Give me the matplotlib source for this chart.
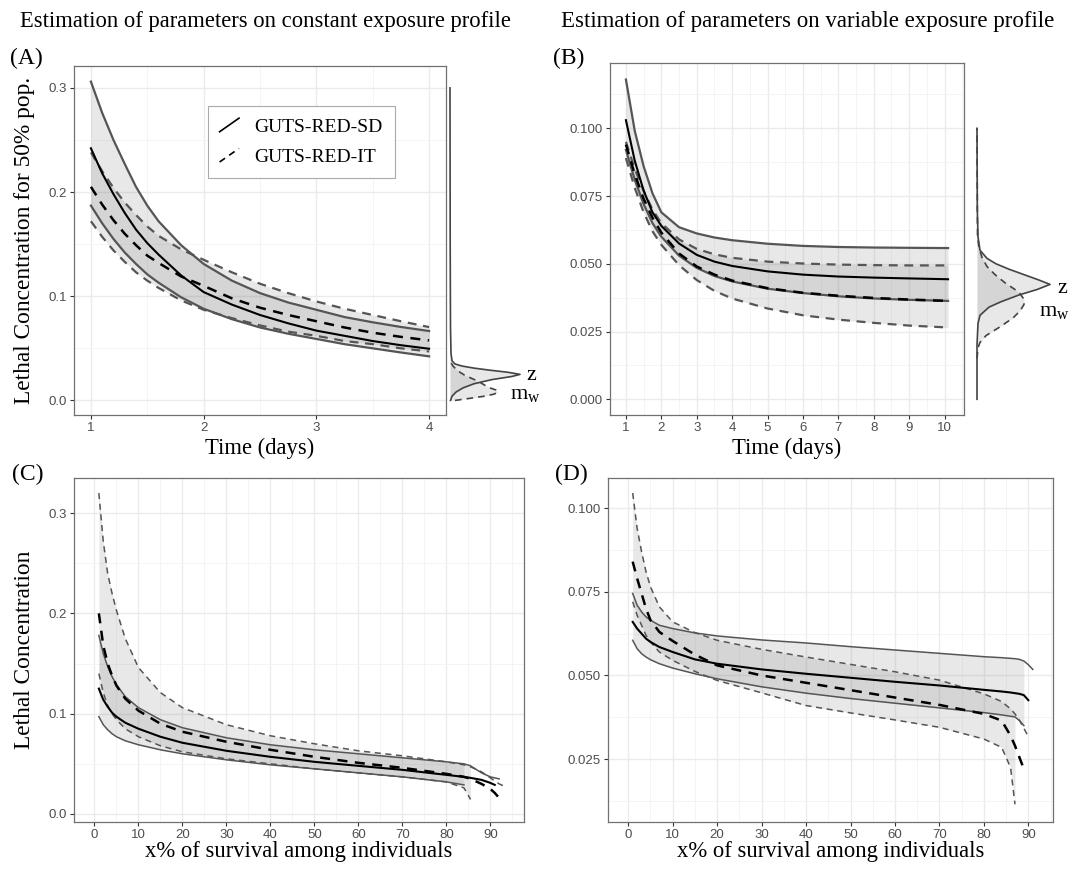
import numpy as np
import matplotlib
matplotlib.use("Agg")
import matplotlib.pyplot as plt
from matplotlib.lines import Line2D
from matplotlib.legend_handler import HandlerBase
from matplotlib.ticker import MultipleLocator, AutoMinorLocator, FormatStrFormatter

plt.rcParams['font.family'] = ['Liberation Sans', 'DejaVu Sans']
plt.rcParams['mathtext.fontset'] = 'custom'
plt.rcParams['mathtext.rm'] = 'Liberation Serif'
SERIF = 'Liberation Serif'
nan = np.nan

# ---- (A) constant exposure, LC50 vs time
t_A = [1, 1.1, 1.2, 1.3, 1.4, 1.5, 1.6, 1.8, 2.0, 2.25, 2.5, 2.75, 3.0, 3.25, 3.5, 3.75, 4.0]
sd_hi_A = [0.306, 0.276, 0.250, 0.227, 0.205, 0.187, 0.172, 0.149, 0.131, 0.115, 0.103, 0.094, 0.087, 0.080, 0.075, 0.0705, 0.0666]
sd_med_A = [0.242, 0.218, 0.198, 0.180, 0.164, 0.151, 0.140, 0.120, 0.104, 0.092, 0.082, 0.074, 0.067, 0.062, 0.057, 0.053, 0.0496]
sd_lo_A = [0.187, 0.170, 0.155, 0.142, 0.131, 0.121, 0.113, 0.099, 0.088, 0.078, 0.070, 0.064, 0.059, 0.054, 0.050, 0.046, 0.0423]
it_hi_A = [0.238, 0.220, 0.204, 0.190, 0.178, 0.167, 0.158, 0.145, 0.135, 0.123, 0.112, 0.103, 0.095, 0.088, 0.082, 0.076, 0.0704]
it_med_A = [0.205, 0.188, 0.173, 0.160, 0.149, 0.139, 0.132, 0.119, 0.110, 0.098, 0.089, 0.082, 0.076, 0.070, 0.065, 0.061, 0.0576]
it_lo_A = [0.172, 0.157, 0.144, 0.133, 0.123, 0.115, 0.108, 0.096, 0.087, 0.079, 0.072, 0.066, 0.062, 0.057, 0.054, 0.050, 0.047]

# posterior densities beside (A)
zy_A = [0.0, 0.004, 0.008, 0.012, 0.016, 0.020, 0.023, 0.025, 0.027, 0.029, 0.031, 0.033, 0.035, 0.038, 0.045, 0.07, 0.15, 0.30]
zd_A = [0.5, 2, 6, 13, 24, 42, 62, 70, 58, 40, 24, 12, 5, 2, 1, 0.5, 0.2, 0]
my_A = [0.0, 0.002, 0.004, 0.006, 0.008, 0.010, 0.012, 0.015, 0.018, 0.021, 0.024, 0.027, 0.030, 0.033, 0.036, 0.040]
md_A = [5, 20, 34, 44, 48, 46, 40, 34, 29, 22, 15, 10, 6, 3, 1, 0.3]

# ---- (B) variable exposure, LC50 vs time
t_B = [1, 1.25, 1.5, 1.75, 2, 2.5, 3, 3.5, 4, 5, 6, 7, 8, 9, 10.1]
sd_hi_B = [0.118, 0.099, 0.086, 0.076, 0.069, 0.0635, 0.0612, 0.0597, 0.0587, 0.0574, 0.0566, 0.0562, 0.0560, 0.0559, 0.0558]
sd_med_B = [0.103, 0.088, 0.077, 0.069, 0.064, 0.0575, 0.0533, 0.0508, 0.0492, 0.0472, 0.0460, 0.0453, 0.0449, 0.0446, 0.0443]
sd_lo_B = [0.092, 0.081, 0.072, 0.065, 0.060, 0.053, 0.0485, 0.0455, 0.0435, 0.0408, 0.0392, 0.0380, 0.0372, 0.0367, 0.0363]
it_hi_B = [0.095, 0.085, 0.077, 0.070, 0.065, 0.059, 0.0555, 0.0535, 0.0522, 0.0508, 0.0501, 0.0497, 0.0495, 0.0494, 0.0494]
it_med_B = [0.094, 0.083, 0.074, 0.067, 0.0615, 0.0538, 0.049, 0.046, 0.0438, 0.0410, 0.0393, 0.0382, 0.0374, 0.0368, 0.0363]
it_lo_B = [0.089, 0.078, 0.069, 0.062, 0.057, 0.0495, 0.0440, 0.0400, 0.0372, 0.0335, 0.0310, 0.0294, 0.0282, 0.0272, 0.0265]

zy_B = [0.0, 0.020, 0.028, 0.031, 0.034, 0.036, 0.0385, 0.0405, 0.0424, 0.044, 0.046, 0.048, 0.050, 0.052, 0.055, 0.060, 0.070, 0.100]
zd_B = [0, 0, 1, 3, 12, 24, 42, 60, 73, 62, 47, 32, 19, 10, 3, 1, 0.3, 0]
my_B = [0.015, 0.019, 0.021, 0.0235, 0.0265, 0.030, 0.0326, 0.035, 0.0369, 0.039, 0.0405, 0.043, 0.046, 0.049, 0.0523, 0.056, 0.060, 0.1]
md_B = [0, 1, 3, 9, 22, 36, 43, 47, 47, 43, 38, 28, 18, 10, 5, 2, 0.5, 0]

# ---- (C) constant exposure, LC vs x% survival
x_C = [1, 2, 3, 4, 5, 7, 10, 15, 20, 30, 40, 50, 60, 70, 80, 84, 85.5, 88, 90, 91, 92, 93]
sd_hi_C = [0.178, 0.160, 0.147, 0.137, 0.129, 0.117, 0.106, 0.094, 0.086, 0.076, 0.069, 0.064, 0.060, 0.056, 0.052, 0.050, 0.048, 0.041, 0.037, 0.036, 0.035, nan]
sd_med_C = [0.125, 0.114, 0.107, 0.101, 0.097, 0.091, 0.085, 0.077, 0.071, 0.063, 0.057, 0.052, 0.048, 0.044, 0.039, 0.037, 0.036, 0.034, 0.031, 0.029, nan, nan]
sd_lo_C = [0.097, 0.089, 0.084, 0.080, 0.077, 0.073, 0.069, 0.064, 0.060, 0.054, 0.049, 0.045, 0.041, 0.037, 0.032, 0.029, nan, nan, nan, nan, nan, nan]
it_hi_C = [0.320, 0.272, 0.240, 0.220, 0.203, 0.175, 0.146, 0.121, 0.106, 0.089, 0.078, 0.070, 0.063, 0.058, 0.052, 0.049, 0.047, 0.042, 0.036, 0.033, 0.030, 0.028]
it_med_C = [0.200, 0.168, 0.150, 0.138, 0.128, 0.115, 0.103, 0.090, 0.082, 0.072, 0.064, 0.057, 0.051, 0.046, 0.040, 0.037, 0.035, 0.030, 0.025, 0.021, 0.016, nan]
it_lo_C = [0.140, 0.121, 0.108, 0.100, 0.094, 0.085, 0.077, 0.068, 0.062, 0.055, 0.050, 0.045, 0.041, 0.037, 0.032, 0.026, 0.0145, nan, nan, nan, nan, nan]

# ---- (D) variable exposure, LC vs x% survival
x_D = [1, 2, 3, 4, 5, 7, 10, 15, 20, 30, 40, 50, 60, 70, 80, 84, 86, 87, 88, 89, 90, 91]
sd_hi_D = [0.0745, 0.071, 0.069, 0.0675, 0.0665, 0.065, 0.064, 0.0627, 0.0618, 0.0606, 0.0597, 0.0586, 0.0576, 0.0566, 0.0556, 0.0553, 0.0551, 0.055, 0.0548, 0.0543, 0.0532, 0.0518]
sd_med_D = [0.066, 0.064, 0.0625, 0.061, 0.060, 0.0585, 0.057, 0.0548, 0.0535, 0.0518, 0.0505, 0.0493, 0.0481, 0.0470, 0.0457, 0.0452, 0.0449, 0.0447, 0.0445, 0.0441, 0.0426, nan]
sd_lo_D = [0.0605, 0.0580, 0.0565, 0.0555, 0.0547, 0.0535, 0.0522, 0.0505, 0.0490, 0.0466, 0.0447, 0.0431, 0.0417, 0.0403, 0.0389, 0.0382, 0.0378, 0.0376, 0.0365, 0.035, nan, nan]
it_hi_D = [0.1045, 0.094, 0.087, 0.081, 0.0765, 0.0705, 0.066, 0.0628, 0.0605, 0.0578, 0.0555, 0.0533, 0.0511, 0.0486, 0.0445, 0.0422, 0.0400, 0.0385, 0.0366, 0.0342, 0.0317, nan]
it_med_D = [0.084, 0.079, 0.0745, 0.070, 0.0665, 0.063, 0.0603, 0.0562, 0.0530, 0.0500, 0.0478, 0.0456, 0.0434, 0.0412, 0.0385, 0.0365, 0.032, 0.029, 0.0255, 0.022, nan, nan]
it_lo_D = [0.072, 0.068, 0.065, 0.062, 0.060, 0.057, 0.0545, 0.0512, 0.0485, 0.0448, 0.0410, 0.0388, 0.0367, 0.0345, 0.0310, 0.0285, 0.0225, 0.0115, nan, nan, nan, nan]

titles = ["Estimation of parameters on constant exposure profile",
          "Estimation of parameters on variable exposure profile"]
legend_labels = ["GUTS-RED-SD", "GUTS-RED-IT"]

W, H = 1072, 871
fig = plt.figure(figsize=(W / 100, H / 100), dpi=100)


def px_axes(x0, y0, x1, y1):
    return fig.add_axes([x0 / W, 1 - y1 / H, (x1 - x0) / W, (y1 - y0) / H])


def style(ax, xlim, ylim, xstep, ystep, yfmt):
    ax.set_xlim(xlim)
    ax.set_ylim(ylim)
    ax.xaxis.set_major_locator(MultipleLocator(xstep))
    ax.yaxis.set_major_locator(MultipleLocator(ystep))
    ax.xaxis.set_minor_locator(AutoMinorLocator(2))
    ax.yaxis.set_minor_locator(AutoMinorLocator(2))
    ax.yaxis.set_major_formatter(FormatStrFormatter(yfmt))
    ax.grid(which='major', color='#EBEBEB', lw=1.0)
    ax.grid(which='minor', color='#F3F3F3', lw=0.6)
    ax.set_axisbelow(True)
    for s in ax.spines.values():
        s.set_color('#707070')
        s.set_linewidth(0.9)
    ax.tick_params(which='major', length=3.2, width=0.8, color='#333333',
                   labelsize=9.5, labelcolor='#4D4D4D', pad=2)
    ax.tick_params(which='minor', length=0)


def bands(ax, x, sd_lo, sd_med, sd_hi, it_lo, it_med, it_hi, lw_b, lw_m):
    x = np.array(x, float)
    arr = [np.array(v, float) for v in (sd_lo, sd_med, sd_hi, it_lo, it_med, it_hi)]
    sd_lo, sd_med, sd_hi, it_lo, it_med, it_hi = arr
    ax.fill_between(x, sd_lo, sd_hi, color='grey', alpha=0.18, lw=0)
    ax.fill_between(x, it_lo, it_hi, color='grey', alpha=0.18, lw=0)
    dash = (0, (4, 3))
    ax.plot(x, sd_hi, color='#555555', lw=lw_b)
    ax.plot(x, sd_lo, color='#555555', lw=lw_b)
    ax.plot(x, it_hi, color='#555555', lw=lw_b, ls=dash)
    ax.plot(x, it_lo, color='#555555', lw=lw_b, ls=dash)
    l1, = ax.plot(x, sd_med, color='black', lw=lw_m)
    l2, = ax.plot(x, it_med, color='black', lw=lw_m + 0.3, ls=dash)
    return l1, l2


def density(ax, zy, zd, my, md, ylim, zlab, mlab):
    ax.fill_betweenx(zy, 0, zd, color='grey', alpha=0.18, lw=0)
    ax.fill_betweenx(my, 0, md, color='grey', alpha=0.18, lw=0)
    ax.plot(md, my, color='#444444', lw=1.2, ls=(0, (4, 3)))
    ax.plot(zd, zy, color='#444444', lw=1.2)
    ax.set_ylim(ylim)
    ax.set_xlim(-2, 93)
    ax.axis('off')
    ax.text(zlab[0], zlab[1], 'z', family=SERIF, fontsize=16, va='center', ha='left')
    ax.text(mlab[0], mlab[1], r'm$_\mathrm{w}$', family=SERIF, fontsize=16, va='center', ha='left')


class HandlerDiag(HandlerBase):
    def create_artists(self, legend, orig_handle, xdescent, ydescent, width, height, fontsize, trans):
        line = Line2D([-xdescent, -xdescent + width], [-ydescent, -ydescent + height])
        line.update_from(orig_handle)
        line.set_linewidth(1.2)
        line.set_transform(trans)
        return [line]


# panel A
axA = px_axes(74, 66, 446, 415)
style(axA, (0.85, 4.15), (-0.014, 0.321), 1, 0.1, '%.1f')
sdA, itA = bands(axA, t_A, sd_lo_A, sd_med_A, sd_hi_A, it_lo_A, it_med_A, it_hi_A, 1.6, 1.5)
axA.set_xlabel('Time (days)', family=SERIF, fontsize=16.3)
axA.set_ylabel('Lethal Concentration for 50% pop.', family=SERIF, fontsize=16.8)
axA.legend([sdA, itA], legend_labels, handler_map={Line2D: HandlerDiag()},
           loc='upper left', bbox_to_anchor=(0.36, 0.884), borderaxespad=0,
           prop={'family': SERIF, 'size': 14}, frameon=True, fancybox=False,
           edgecolor='#AAAAAA', framealpha=1, handlelength=1.0, handleheight=0.7,
           handletextpad=0.8, labelspacing=0.65, borderpad=0.6)
axA.get_legend().get_frame().set_linewidth(0.8)

axAd = px_axes(448, 66, 543, 415)
density(axAd, zy_A, zd_A, my_A, md_A, (-0.014, 0.321), (76, 0.024), (60, 0.005))

# panel B
axB = px_axes(610, 63, 964, 415)
style(axB, (0.55, 10.55), (-0.0058, 0.1241), 1, 0.025, '%.3f')
bands(axB, t_B, sd_lo_B, sd_med_B, sd_hi_B, it_lo_B, it_med_B, it_hi_B, 1.6, 1.5)
axB.set_xlabel('Time (days)', family=SERIF, fontsize=16.3)

axBd = px_axes(975, 63, 1070, 415)
density(axBd, zy_B, zd_B, my_B, md_B, (-0.0058, 0.1241), (80, 0.041), (62, 0.032))

# panel C
axC = px_axes(74, 478, 524, 822)
style(axC, (-4.65, 97.65), (-0.008, 0.335), 10, 0.1, '%.1f')
bands(axC, x_C, sd_lo_C, sd_med_C, sd_hi_C, it_lo_C, it_med_C, it_hi_C, 1.1, 1.5)
axC.set_xlabel('x% of survival among individuals', family=SERIF, fontsize=16.3)
axC.set_ylabel('Lethal Concentration', family=SERIF, fontsize=16.8)

# panel D
axD = px_axes(608, 478, 1053, 822)
style(axD, (-4.55, 95.55), (0.0062, 0.109), 10, 0.025, '%.3f')
bands(axD, x_D, sd_lo_D, sd_med_D, sd_hi_D, it_lo_D, it_med_D, it_hi_D, 1.1, 1.5)
axD.set_xlabel('x% of survival among individuals', family=SERIF, fontsize=16.3)

for ax, h, off in ((axA, 349, 23), (axB, 352, 23), (axC, 344, 19), (axD, 344, 19)):
    ax.xaxis.set_label_coords(0.5, -off / h)
    ax.xaxis.label.set_va('top')
for ax, w in ((axA, 372), (axC, 450)):
    ax.yaxis.set_label_coords(-(74 - 25) / w, 0.5)
    ax.yaxis.label.set_va('center')

fig.text(265 / W, 1 - 22 / H, titles[0], family=SERIF, fontsize=16.3, ha='center', va='center')
fig.text(808 / W, 1 - 22 / H, titles[1], family=SERIF, fontsize=16.5, ha='center', va='center')
for tag, x, y in (('(A)', 10, 58), ('(B)', 553, 58), ('(C)', 12, 474), ('(D)', 555, 474)):
    fig.text(x / W, 1 - y / H, tag, family=SERIF, fontsize=17, ha='left', va='center')

fig.savefig('out.png', dpi=100)
